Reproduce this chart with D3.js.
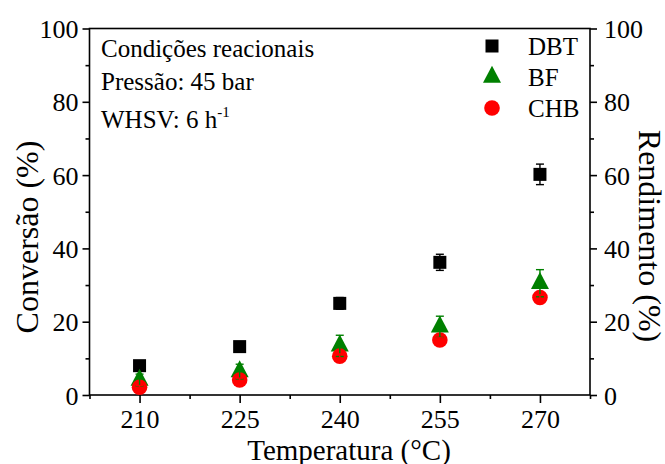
<!DOCTYPE html>
<html>
<head>
<meta charset="utf-8">
<script src="https://cdn.jsdelivr.net/npm/d3@7"></script>
<style>
  html, body { margin: 0; padding: 0; background: #fff; }
  svg text { font-family: "Liberation Serif", "Times New Roman", serif; fill: #000; }
</style>
</head>
<body>
<svg id="chart" width="665" height="464" font-family="Liberation Serif"></svg>
<script>
// Reaction temperatures (°C)
const temperatures = [210, 225, 240, 255, 270];

// DBT conversion (%) and its standard deviation
const dbtValues = [8.0, 13.2, 25.0, 36.2, 60.2];
const dbtErrors = [0.5, 0.4, 1.6, 2.2, 2.8];

// BF yield (%) and its standard deviation
const bfValues = [4.1, 6.4, 13.4, 18.6, 30.5];
const bfErrors = [1.6, 2.0, 2.9, 2.9, 3.7];

// CHB yield (%) and its standard deviation
const chbValues = [2.1, 4.1, 10.6, 15.0, 26.6];
const chbErrors = [0.5, 0.5, 0.6, 0.6, 0.7];

const xTicks = [210, 225, 240, 255, 270];
const yTicks = [0, 20, 40, 60, 80, 100];

const legendNames = ["DBT", "BF", "CHB"];
const conditions = ["Condições reacionais", "Pressão: 45 bar", "WHSV: 6 h"];

const FONT = "Liberation Serif";
const svg = d3.select("#chart");
const margin = { left: 89.5, right: 75, top: 28.5, bottom: 69 };
const W = 665, H = 464;
const x = d3.scaleLinear().domain([202.5, 277.5]).range([margin.left, W - margin.right]);
const y = d3.scaleLinear().domain([0, 100]).range([H - margin.bottom, margin.top]);

const axisW = 1.6;
const fontTick = 26, fontTitle = 29, fontYTitle = 32, fontNote = 25;

// Frame
svg.append("rect")
  .attr("x", x.range()[0]).attr("y", y.range()[1])
  .attr("width", x.range()[1] - x.range()[0])
  .attr("height", y.range()[0] - y.range()[1])
  .attr("fill", "none").attr("stroke", "#000").attr("stroke-width", axisW);

// Bottom axis: major + minor ticks
const xMinor = d3.range(202.5, 277.6, 7.5).filter(v => !xTicks.includes(v));
const xAxis = d3.axisBottom(x).tickValues(xTicks).tickSize(8).tickPadding(4).tickFormat(d3.format("d"));
const gx = svg.append("g").attr("transform", `translate(0,${y(0)})`).call(xAxis)
  .attr("font-family", FONT);
gx.select(".domain").remove();
gx.selectAll(".tick line").attr("stroke-width", axisW);
gx.selectAll(".tick text").attr("font-size", fontTick).attr("dy", "0.8em");
svg.append("g").attr("transform", `translate(0,${y(0)})`)
  .call(d3.axisBottom(x).tickValues(xMinor).tickSize(4).tickFormat(""))
  .call(g => g.select(".domain").remove())
  .selectAll(".tick line").attr("stroke-width", axisW);

// Left & right axes
const yMinor = d3.range(10, 100, 20);
function yAxisPair(axisFn, xpos, pad) {
  const g = svg.append("g").attr("transform", `translate(${xpos},0)`)
    .call(axisFn(y).tickValues(yTicks).tickSize(7).tickPadding(pad).tickFormat(d3.format("d")))
    .attr("font-family", FONT);
  g.select(".domain").remove();
  g.selectAll(".tick line").attr("stroke-width", axisW);
  g.selectAll(".tick text").attr("font-size", fontTick).attr("dy", "0.35em");
  svg.append("g").attr("transform", `translate(${xpos},0)`)
    .call(axisFn(y).tickValues(yMinor).tickSize(4).tickFormat(""))
    .call(g2 => g2.select(".domain").remove())
    .selectAll(".tick line").attr("stroke-width", axisW);
}
yAxisPair(d3.axisLeft, x.range()[0], 4);
yAxisPair(d3.axisRight, x.range()[1], 7);

// Axis titles
svg.append("text").attr("x", 349).attr("y", 460)
  .attr("text-anchor", "middle").attr("font-size", fontTitle).text("Temperatura (°C)");
svg.append("text").attr("transform", "translate(38,237) rotate(-90)")
  .attr("text-anchor", "middle").attr("font-size", fontYTitle).text("Conversão (%)");
svg.append("text").attr("transform", "translate(639,236) rotate(90)")
  .attr("text-anchor", "middle").attr("font-size", fontYTitle).text("Rendimento (%)");

// Symbols
const sqSize = 13;
const triPath = (w, h) => `M0,${-2 * h / 3}L${w / 2},${h / 3}L${-w / 2},${h / 3}Z`;
const series = [
  { vals: dbtValues, errs: dbtErrors, color: "#000000", shape: "square" },
  { vals: bfValues, errs: bfErrors, color: "#008000", shape: "triangle" },
  { vals: chbValues, errs: chbErrors, color: "#ff0000", shape: "circle" }
];

function drawSymbol(g, shape, color) {
  if (shape === "square") {
    g.append("rect").attr("x", -sqSize / 2).attr("y", -sqSize / 2)
      .attr("width", sqSize).attr("height", sqSize).attr("fill", color);
  } else if (shape === "triangle") {
    g.append("path").attr("d", triPath(18, 17)).attr("fill", color);
  } else {
    g.append("circle").attr("r", 7.8).attr("fill", color);
  }
}

const plot = svg.append("g");
series.forEach(s => {
  temperatures.forEach((t, i) => {
    const g = plot.append("g").attr("transform", `translate(${x(t)},${y(s.vals[i])})`);
    drawSymbol(g, s.shape, s.color);
  });
});

// Error bars drawn over all symbols
const capW = 8;
series.forEach(s => {
  temperatures.forEach((t, i) => {
    const cx = x(t), y1 = y(s.vals[i] + s.errs[i]), y2 = y(s.vals[i] - s.errs[i]);
    const g = plot.append("g").attr("stroke", s.color).attr("stroke-width", 1.4);
    g.append("line").attr("x1", cx).attr("x2", cx).attr("y1", y1).attr("y2", y2);
    g.append("line").attr("x1", cx - capW / 2).attr("x2", cx + capW / 2).attr("y1", y1).attr("y2", y1);
    g.append("line").attr("x1", cx - capW / 2).attr("x2", cx + capW / 2).attr("y1", y2).attr("y2", y2);
  });
});

// Reaction conditions note
const note = svg.append("g").attr("font-size", fontNote);
const noteY = [57, 90, 128];
conditions.forEach((c, i) => {
  const t = note.append("text").attr("x", 101).attr("y", noteY[i]).text(c);
  if (i === 2) t.append("tspan").attr("font-size", 15).attr("dy", -11).text("-1");
});

// Legend
const legY = [46, 77, 108];
legendNames.forEach((name, i) => {
  const g = svg.append("g").attr("transform", `translate(492,${legY[i]})`);
  drawSymbol(g, series[i].shape, series[i].color);
  svg.append("text").attr("x", 528).attr("y", legY[i]).attr("dy", "0.35em")
    .attr("font-size", fontNote).text(name);
});
</script>
</body>
</html>
